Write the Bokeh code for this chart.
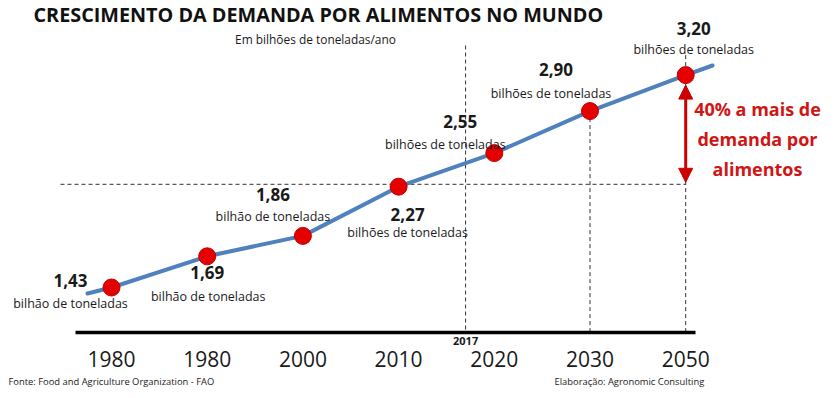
from bokeh.plotting import figure
from bokeh.models import Range1d, ColumnDataSource, Arrow, NormalHead
from bokeh.core.properties import value
from bokeh.embed import file_html
from bokeh.resources import INLINE

# ---- data ----
tick_labels = ["1980", "1980", "2000", "2010", "2020", "2030", "2050"]
values = [1.43, 1.69, 1.86, 2.27, 2.55, 2.90, 3.20]
value_labels = ["1,43", "1,69", "1,86", "2,27", "2,55", "2,90", "3,20"]
unit_labels = ["bilhão de toneladas", "bilhão de toneladas", "bilhão de toneladas",
               "bilhões de toneladas", "bilhões de toneladas", "bilhões de toneladas",
               "bilhões de toneladas"]
line_start_value = 1.38   # trend line runs a little past the first point
line_end_value = 3.28     # ... and past the last point
level_2017 = 2.29         # 3,20 / 1,40
year_2017_pos = 3.7       # 2017 between 2010 and 2020

FONT = value("Open Sans")
W, H = 830, 392

# page-pixel -> data mapping helpers (layout only)
SX = 95.7
SY = 120.0
def X(px):
    return (px - 111) / SX
def Y(py):
    return 1.43 + (287 - py) / SY

p = figure(width=W, height=H, output_backend="svg", toolbar_location=None,
           x_range=Range1d(X(0), X(W)), y_range=Range1d(Y(H), Y(0)),
           x_axis_location=None, y_axis_location=None, min_border=0)
p.grid.visible = False
p.outline_line_color = None
p.background_fill_color = "white"

idx = list(range(len(values)))

# dashed guides
dash = "4 3"
p.segment(x0=[X(60)], y0=[level_2017], x1=[idx[-1]], y1=[level_2017],
          line_color="#333333", line_width=1, line_dash=dash)
base_y = Y(332)
p.segment(x0=[year_2017_pos, idx[5], idx[6]],
          y0=[Y(45), values[5], values[6] + 20 / SY],
          x1=[year_2017_pos, idx[5], idx[6]],
          y1=[base_y, base_y, base_y],
          line_color="#333333", line_width=1, line_dash=dash)

# baseline axis
p.segment(x0=[X(75)], y0=[base_y], x1=[X(695)], y1=[base_y],
          line_color="black", line_width=3.5)
p.text(x=idx, y=[Y(358)] * len(idx), text=tick_labels, text_font=FONT,
       text_font_size="21px", text_align="center", text_baseline="middle",
       text_color="#1a1a1a")
p.text(x=[year_2017_pos], y=[Y(340)], text=["2017"], text_font=FONT,
       text_font_size="11px", text_font_style="bold", text_align="center",
       text_baseline="middle", text_color="#1a1a1a")

# trend line
lx = [X(87)] + idx + [X(712)]
ly = [line_start_value] + values + [line_end_value]
p.line(lx, ly, line_color="#4f81bd", line_width=4, line_join="round", line_cap="round")

# arrow 40%
p.add_layout(Arrow(x_start=idx[6], y_start=level_2017 + 2 / SY,
                   x_end=idx[6], y_end=values[6] - 10 / SY,
                   line_color="#cc0000", line_width=3,
                   start=NormalHead(size=14, fill_color="#cc0000", line_color="#cc0000"),
                   end=NormalHead(size=14, fill_color="#cc0000", line_color="#cc0000")))

# points
p.scatter(idx, values, size=17, fill_color="#e50000", line_color="#c00000", line_width=1)

# labels (offsets in screen px relative to each point)
vdx = [-41, 0, -30, 9, -34, -34, 8]
vdy = [-7, 16, -41, 28, -32, -42, -47]
udx = [-41, 1, -30, 9, -49, -39, 8]
udy = [16, 40, -19, 46, -9, -18, -26]
src = ColumnDataSource(dict(x=idx, y=values, v=value_labels, u=unit_labels,
                            vdx=vdx, vdy=vdy, udx=udx, udy=udy))
p.text(x="x", y="y", text="v", x_offset="vdx", y_offset="vdy", source=src,
       text_font=FONT, text_font_size="17px", text_font_style="bold",
       text_align="center", text_baseline="middle", text_color="#1a1a1a")
p.text(x="x", y="y", text="u", x_offset="udx", y_offset="udy", source=src,
       text_font=FONT, text_font_size="12.5px",
       text_align="center", text_baseline="middle", text_color="#1a1a1a")

# red callout
p.text(x=[X(757)] * 3, y=[Y(108), Y(138), Y(168)],
       text=["40% a mais de", "demanda por", "alimentos"], text_font=FONT,
       text_font_size="18px", text_font_style="bold", text_align="center",
       text_baseline="middle", text_color="#d01515")

# title
p.text(x=[X(33)], y=[Y(14)], text=["CRESCIMENTO DA DEMANDA POR ALIMENTOS NO MUNDO"],
       text_font=FONT, text_font_size="19.8px", text_font_style="bold",
       text_align="left", text_baseline="middle", text_color="#111111")
p.text(x=[X(315)], y=[Y(38)], text=["Em bilhões de toneladas/ano"],
       text_font=FONT, text_font_size="11.9px", text_align="center",
       text_baseline="middle", text_color="#1a1a1a")

# footers
p.text(x=[X(8)], y=[Y(381)], text=["Fonte: Food and Agriculture Organization - FAO"],
       text_font=FONT, text_font_size="9.4px", text_align="left",
       text_baseline="middle", text_color="#222222")
p.text(x=[X(554)], y=[Y(381)], text=["Elaboração: Agronomic Consulting"],
       text_font=FONT, text_font_size="9.4px", text_align="left",
       text_baseline="middle", text_color="#222222")

open("out.html", "w").write(file_html(p, INLINE))
